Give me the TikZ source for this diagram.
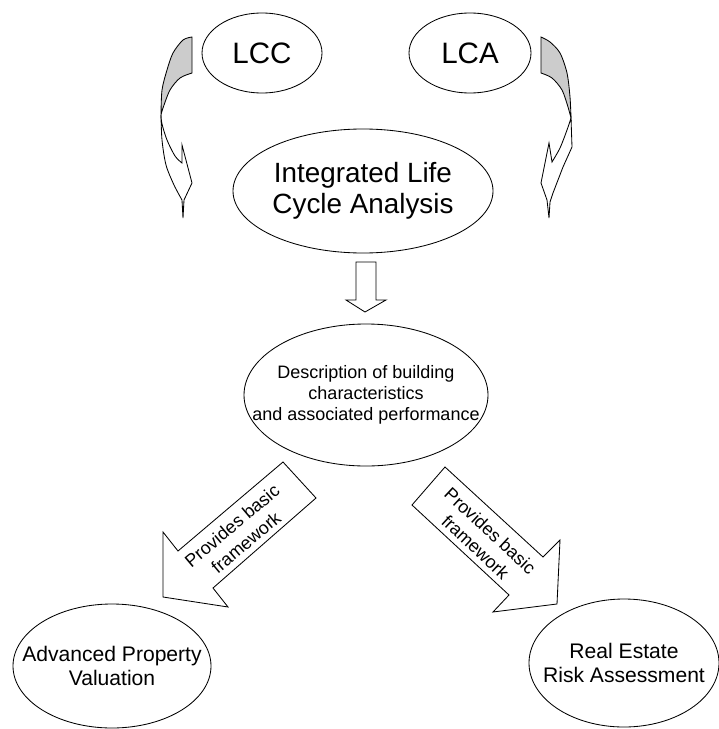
\documentclass[tikz,border=0pt]{standalone}
\usepackage{fontspec}
\setmainfont{Liberation Sans}
\definecolor{shade}{RGB}{204,204,204}

\begin{document}
\begin{tikzpicture}[x=0.025cm,y=-0.025cm,line width=0.6pt,
  bubble/.style={inner sep=0pt,align=center},
  tag/.style={align=center,inner sep=0pt,font=\fontsize{12.8}{15.5}\selectfont}]
  \useasboundingbox (0,0) rectangle (718,729);

  % texts of the bubbles
  \node[bubble,font=\fontsize{21}{24}\selectfont] (lcc) at (262,53) {LCC};
  \node[bubble,font=\fontsize{21}{24}\selectfont] (lca) at (470,53) {LCA};
  \node[bubble,font=\fontsize{19.8}{22.4}\selectfont] (ilca) at (363,191)
    {Integrated Life\\Cycle Analysis};
  \node[bubble,font=\fontsize{12.8}{15}\selectfont] (desc) at (366,395)
    {Description of building\\characteristics\\and associated performance};
  \node[bubble,font=\fontsize{15}{16.5}\selectfont] (apv) at (112,666)
    {Advanced Property\\Valuation};
  \node[bubble,font=\fontsize{15}{16.5}\selectfont] (rera) at (624,663)
    {Real Estate\\Risk Assessment};

  % the bubbles themselves
  \foreach \n/\rx/\ry in {lcc/60/40, lca/61/40, ilca/130/62, desc/122/71,
                          apv/99/62, rera/95/64}
    \draw (\n.center) ellipse [x radius=\rx, y radius=\ry];

  % curved arrows, grey back and white front
  \filldraw[fill=shade] (192,37) -- (192,73)
    -- plot[smooth] coordinates {(192,73) (180,78) (170,90) (163,108) (161,115)}
    -- plot[smooth] coordinates {(161,115) (162,90) (167,70) (173,53) (183,40) (192,37)} -- cycle;
  \filldraw[fill=white] (161,115)
    -- plot[smooth] coordinates {(161,115) (162,140) (166,165) (174,185) (182,200)}
    -- (183,218) -- (184,200) -- (192,183) -- (182,145) -- (182,163)
    -- plot[smooth] coordinates {(182,163) (175,156) (167,140) (162,124) (161,115)} -- cycle;
  \filldraw[fill=shade] (541,37) -- (541,73)
    -- plot[smooth] coordinates {(541,73) (552,78) (562,90) (568,107) (571,118)}
    -- plot[smooth] coordinates {(571,118) (570,97) (567,73) (560,53) (550,42) (541,37)} -- cycle;
  \filldraw[fill=white] (571,118) -- (572,147) -- (563,167) -- (553,193) -- (550,202)
    -- (549,218) -- (547,200) -- (541,183) -- (549,143) -- (552,162)
    -- plot[smooth] coordinates {(552,162) (560,148) (567,130) (571,118)} -- cycle;

  \draw (356,262) -- (376,262) -- (376,300) -- (386,300) -- (365,312)
    -- (346,300) -- (356,300) -- cycle;

  % block arrows down to the two uses
  \draw (283,462) -- (178,551) -- (163,532) -- (163,597) -- (228,607)
    -- (213,588) -- (316,498) -- cycle;
  \draw (445,467) -- (543,557) -- (560,540) -- (557,604) -- (493,612)
    -- (509,595) -- (412,505) -- cycle;
  \node[tag,rotate=40] (ltag) at (239,534) {Provides basic\\framework};
  \node[tag,rotate=-43] (rtag) at (483,539) {Provides basic\\framework};
\end{tikzpicture}
\end{document}
